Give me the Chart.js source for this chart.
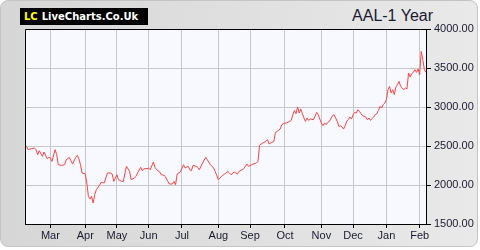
<!DOCTYPE html>
<html>
<head>
<meta charset="utf-8">
<script src="https://cdn.jsdelivr.net/npm/chart.js@4/dist/chart.umd.min.js"></script>
<style>
  body { margin: 0; background: #fff; }
  #wrap { position: relative; width: 480px; height: 250px; }
  #panel {
    position: absolute; left: 0; top: 0; width: 476px; height: 245px;
    border: 1px solid #c4c4c4; border-radius: 8px;
    background: linear-gradient(to right, #d6d6d6, #e9e9e9);
  }
  #logo {
    position: absolute; left: 20px; top: 8px; width: 128px; height: 17px;
    background: #000; color: #fff; font: bold 10px "DejaVu Sans"; line-height: 17px;
    white-space: nowrap;
  }
  #logo b { color: #ffff00; margin-left: 4px; margin-right: 4px; }
  #title {
    position: absolute; right: 47px; top: 7px;
    font: 16px "Liberation Sans"; color: #1a1a2e;
  }
  canvas { position: absolute; left: 0; top: 0; }
</style>
</head>
<body>
<div id="wrap">
  <div id="panel"></div>
  <div id="logo"><b>LC</b>LiveCharts.Co.Uk</div>
  <div id="title">AAL-1 Year</div>
  <canvas id="chart" width="480" height="250"></canvas>
</div>
<script>
// trading day index (0 = first day of the year window) and price in pence
const tradingDays = [0, 1, 2, 4, 6, 7, 8, 9, 11, 12, 14, 15, 16, 17, 19, 20, 21, 23, 25, 26,
  28, 29, 30, 32, 33, 34, 35, 36, 38, 39, 40, 41, 42, 43, 44, 45, 47, 48, 50, 51,
  52, 54, 55, 56, 58, 59, 61, 62, 64, 66, 67, 69, 70, 71, 73, 74, 75, 77, 78, 79,
  81, 82, 83, 85, 86, 88, 89, 91, 93, 94, 95, 96, 97, 98, 100, 101, 103, 104, 105, 106,
  108, 109, 110, 112, 114, 115, 117, 119, 120, 122, 123, 124, 126, 128, 129, 130, 132, 134, 135, 137,
  138, 140, 141, 143, 144, 146, 147, 148, 149, 150, 152, 153, 154, 155, 157, 158, 159, 161, 162, 164,
  165, 167, 168, 169, 170, 171, 172, 173, 174, 175, 176, 177, 178, 179, 180, 182, 183, 184, 185, 186,
  187, 188, 189, 190, 191, 192, 194, 195, 196, 197, 198, 199, 200, 201, 202, 203, 204, 205, 206, 207,
  208, 209, 210, 211, 212, 213, 215, 216, 217, 218, 219, 220, 221, 222, 223, 224, 225, 226, 227, 228,
  229, 230, 231, 232, 233, 234, 235, 236, 237, 238, 239, 240, 241, 242, 243, 244, 245, 246, 247, 248,
  249, 250, 251, 252, 253];
const prices = [2500, 2495, 2453, 2465, 2474, 2453, 2389, 2440, 2367, 2423, 2337, 2354, 2346, 2303, 2453, 2389, 2260, 2251, 2260, 2324,
  2354, 2311, 2269, 2354, 2380, 2337, 2260, 2154, 2145, 2026, 1854, 1820, 1854, 1769, 1876, 1940, 1995, 2033, 2026, 2090,
  2154, 2154, 2141, 2046, 2132, 2068, 2046, 2046, 2239, 2174, 2068, 2090, 2110, 2154, 2226, 2183, 2209, 2209, 2218, 2196,
  2295, 2226, 2196, 2167, 2132, 2123, 2090, 2013, 2013, 2046, 2004, 2141, 2154, 2167, 2260, 2218, 2239, 2196, 2183, 2251,
  2239, 2226, 2196, 2282, 2354, 2324, 2260, 2218, 2174, 2068, 2090, 2110, 2141, 2174, 2154, 2132, 2167, 2141, 2174, 2196,
  2209, 2269, 2239, 2260, 2269, 2282, 2303, 2508, 2526, 2538, 2559, 2581, 2526, 2538, 2559, 2674, 2687, 2718, 2773, 2795,
  2795, 2815, 2828, 2901, 2956, 2914, 3000, 2923, 2974, 2914, 2859, 2815, 2859, 2828, 2846, 2837, 2880, 2931, 2901, 2846,
  2795, 2760, 2795, 2773, 2802, 2815, 2888, 2901, 2859, 2815, 2751, 2760, 2744, 2718, 2760, 2818, 2840, 2872, 2846, 2901,
  2931, 2923, 2965, 2944, 2914, 2888, 2872, 2837, 2859, 2828, 2854, 2872, 2901, 2914, 2956, 3008, 2987, 3030, 3051, 3093,
  3222, 3264, 3180, 3222, 3158, 3256, 3286, 3328, 3264, 3244, 3222, 3244, 3231, 3436, 3385, 3427, 3444, 3478, 3444, 3487,
  3414, 3713, 3606, 3478, 3444];

// first trading day of each month
const monthTicks = [16, 38, 58, 78, 99, 122, 142, 164, 187, 207, 228, 249];
const monthLabels = ["Mar", "Apr", "May", "Jun", "Jul", "Aug", "Sep", "Oct", "Nov", "Dec", "Jan", "Feb"];
const priceMin = 1500;
const priceMax = 4000;
const priceStep = 500;

let points = tradingDays.map(function (d, i) {
  return { x: d, y: prices[i] };
});

const plotFrame = {
  id: "plotFrame",
  beforeDraw: function (chart) {
    let a = chart.chartArea;
    let c = chart.ctx;
    c.save();
    c.fillStyle = "#f8f9ff";
    c.fillRect(a.left, a.top, a.right - a.left, a.bottom - a.top);
    c.restore();
  },
  afterDraw: function (chart) {
    let a = chart.chartArea;
    let c = chart.ctx;
    c.save();
    c.strokeStyle = "#000";
    c.lineWidth = 1;
    c.beginPath();
    c.moveTo(Math.round(a.left) + 0.5, Math.round(a.bottom));
    c.lineTo(Math.round(a.left) + 0.5, Math.round(a.top) + 0.5);
    c.lineTo(Math.round(a.right), Math.round(a.top) + 0.5);
    c.stroke();
    c.restore();
  }
};

let tickFont = { family: "Liberation Sans", size: 11 };

new Chart(document.getElementById("chart"), {
  type: "line",
  data: {
    datasets: [{
      data: points,
      borderColor: "#ff4444",
      borderWidth: 1,
      pointRadius: 0,
      tension: 0,
      fill: false
    }]
  },
  options: {
    responsive: false,
    animation: false,
    layout: { padding: { left: 25, top: 29, right: 0, bottom: 0 } },
    plugins: { legend: { display: false }, tooltip: { enabled: false } },
    scales: {
      x: {
        type: "linear",
        min: 0,
        max: 253,
        afterBuildTicks: function (scale) {
          scale.ticks = monthTicks.map(function (v) { return { value: v }; });
        },
        afterFit: function (scale) { scale.height = 26; },
        ticks: {
          autoSkip: false,
          maxRotation: 0,
          padding: 1,
          color: "#1a1a2e",
          font: tickFont,
          callback: function (v, i) { return monthLabels[i]; }
        },
        grid: { color: "#c8c8c8", tickColor: "#000", tickLength: 4 },
        border: { color: "#000" }
      },
      y: {
        position: "right",
        min: priceMin,
        max: priceMax,
        afterFit: function (scale) { scale.width = 54; },
        ticks: {
          stepSize: priceStep,
          padding: 3,
          color: "#1a1a2e",
          font: tickFont,
          callback: function (v) { return v.toFixed(2); }
        },
        grid: { color: "#c8c8c8", tickColor: "#000", tickLength: 5 },
        border: { color: "#000" }
      }
    }
  },
  plugins: [plotFrame]
});
</script>
</body>
</html>
